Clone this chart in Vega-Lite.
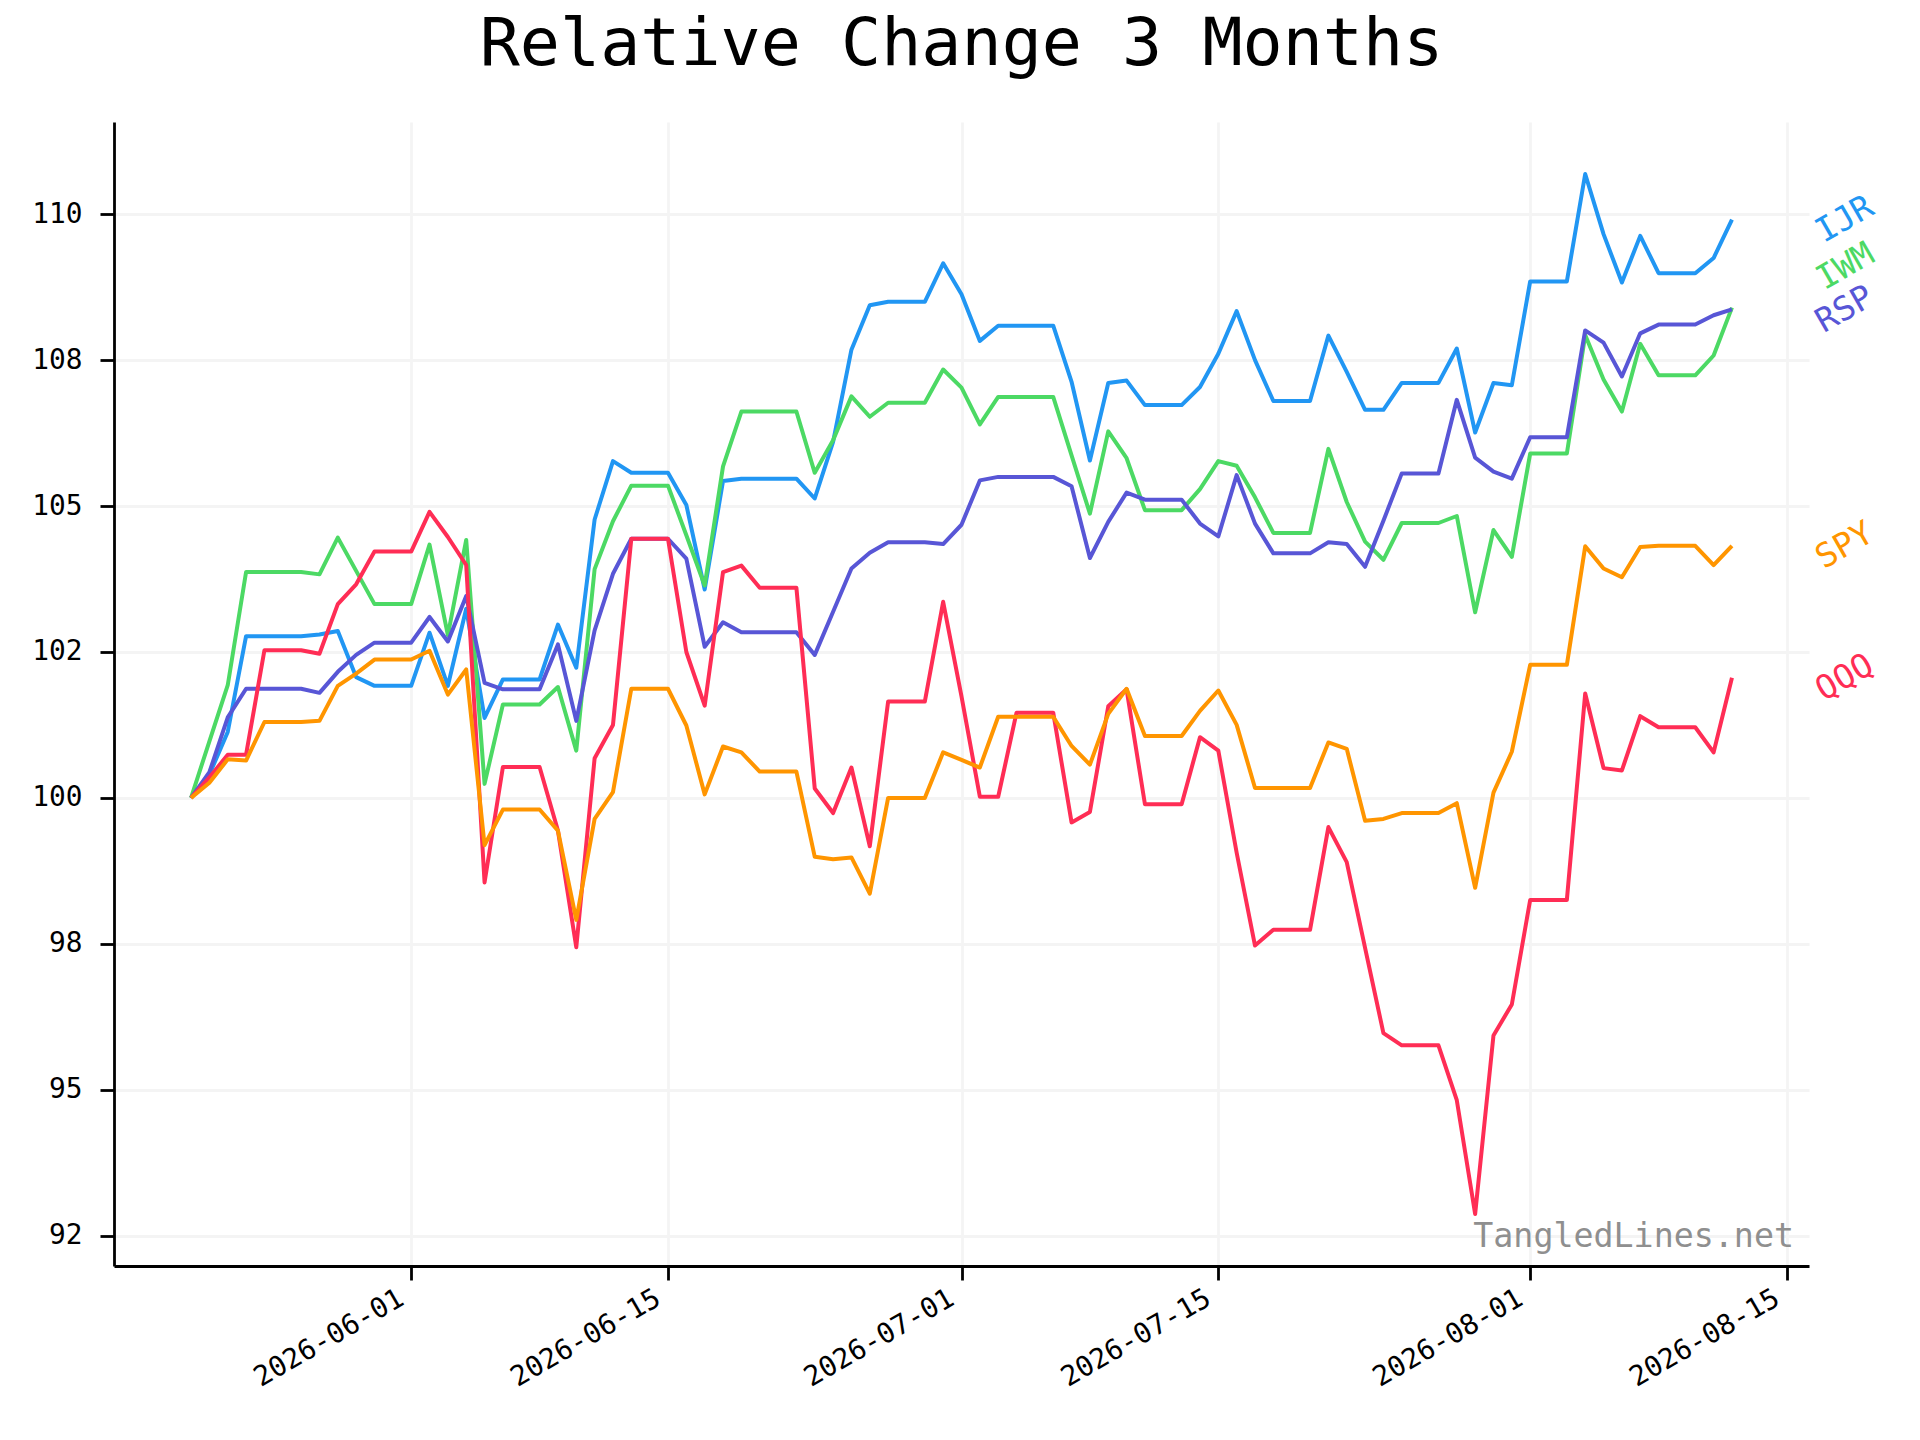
{
  "$schema": "https://vega.github.io/schema/vega-lite/v6.json",
  "width": 1695,
  "height": 1144,
  "autosize": {"type": "none"},
  "padding": {"left": 114, "top": 122, "right": 111, "bottom": 174},
  "background": "white",
  "config": {
    "view": {"stroke": null},
    "font": "DejaVu Sans Mono",
    "axis": {
      "domainColor": "black",
      "domainWidth": 2.8,
      "tickColor": "black",
      "tickWidth": 2.8,
      "tickSize": 14,
      "labelFont": "DejaVu Sans Mono",
      "labelFontSize": 27.8,
      "labelColor": "black",
      "gridColor": "#f4f4f4",
      "gridWidth": 2.8
    }
  },
  "title": {
    "text": "Relative Change 3 Months",
    "font": "DejaVu Sans Mono",
    "fontSize": 66.7,
    "fontWeight": "normal",
    "color": "black",
    "anchor": "middle",
    "baseline": "alphabetic",
    "offset": -10
  },
  "data": {
    "format": {"parse": {"date": "utc:'%Y-%m-%d'"}},
    "values": [
      {"date": "2026-05-20", "IJR": 100.00, "IWM": 100.00, "RSP": 100.00, "QQQ": 100.00, "SPY": 100.00},
      {"date": "2026-05-21", "IJR": 100.40, "IWM": 100.97, "RSP": 100.44, "QQQ": 100.35, "SPY": 100.26},
      {"date": "2026-05-22", "IJR": 101.13, "IWM": 101.93, "RSP": 101.38, "QQQ": 100.74, "SPY": 100.66},
      {"date": "2026-05-23", "IJR": 102.77, "IWM": 103.87, "RSP": 101.87, "QQQ": 100.74, "SPY": 100.64},
      {"date": "2026-05-24", "IJR": 102.77, "IWM": 103.87, "RSP": 101.87, "QQQ": 102.53, "SPY": 101.30},
      {"date": "2026-05-25", "IJR": 102.77, "IWM": 103.87, "RSP": 101.87, "QQQ": 102.53, "SPY": 101.30},
      {"date": "2026-05-26", "IJR": 102.77, "IWM": 103.87, "RSP": 101.87, "QQQ": 102.53, "SPY": 101.30},
      {"date": "2026-05-27", "IJR": 102.80, "IWM": 103.83, "RSP": 101.80, "QQQ": 102.47, "SPY": 101.32},
      {"date": "2026-05-28", "IJR": 102.86, "IWM": 104.46, "RSP": 102.16, "QQQ": 103.32, "SPY": 101.92},
      {"date": "2026-05-29", "IJR": 102.07, "IWM": 103.89, "RSP": 102.45, "QQQ": 103.66, "SPY": 102.13},
      {"date": "2026-05-30", "IJR": 101.92, "IWM": 103.32, "RSP": 102.66, "QQQ": 104.22, "SPY": 102.37},
      {"date": "2026-05-31", "IJR": 101.92, "IWM": 103.32, "RSP": 102.66, "QQQ": 104.22, "SPY": 102.37},
      {"date": "2026-06-01", "IJR": 101.92, "IWM": 103.32, "RSP": 102.66, "QQQ": 104.22, "SPY": 102.37},
      {"date": "2026-06-02", "IJR": 102.83, "IWM": 104.34, "RSP": 103.10, "QQQ": 104.90, "SPY": 102.52},
      {"date": "2026-06-03", "IJR": 101.92, "IWM": 102.79, "RSP": 102.68, "QQQ": 104.47, "SPY": 101.77},
      {"date": "2026-06-04", "IJR": 103.24, "IWM": 104.42, "RSP": 103.46, "QQQ": 103.99, "SPY": 102.20},
      {"date": "2026-06-05", "IJR": 101.37, "IWM": 100.24, "RSP": 101.97, "QQQ": 98.55, "SPY": 99.19},
      {"date": "2026-06-06", "IJR": 102.03, "IWM": 101.60, "RSP": 101.86, "QQQ": 100.53, "SPY": 99.80},
      {"date": "2026-06-07", "IJR": 102.03, "IWM": 101.60, "RSP": 101.86, "QQQ": 100.53, "SPY": 99.80},
      {"date": "2026-06-08", "IJR": 102.03, "IWM": 101.60, "RSP": 101.86, "QQQ": 100.53, "SPY": 99.80},
      {"date": "2026-06-09", "IJR": 102.97, "IWM": 101.90, "RSP": 102.63, "QQQ": 99.44, "SPY": 99.44},
      {"date": "2026-06-10", "IJR": 102.23, "IWM": 100.81, "RSP": 101.32, "QQQ": 97.44, "SPY": 97.91},
      {"date": "2026-06-11", "IJR": 104.77, "IWM": 103.92, "RSP": 102.87, "QQQ": 100.68, "SPY": 99.64},
      {"date": "2026-06-12", "IJR": 105.77, "IWM": 104.74, "RSP": 103.84, "QQQ": 101.25, "SPY": 100.10},
      {"date": "2026-06-13", "IJR": 105.57, "IWM": 105.35, "RSP": 104.44, "QQQ": 104.44, "SPY": 101.87},
      {"date": "2026-06-14", "IJR": 105.57, "IWM": 105.35, "RSP": 104.44, "QQQ": 104.44, "SPY": 101.87},
      {"date": "2026-06-15", "IJR": 105.57, "IWM": 105.35, "RSP": 104.44, "QQQ": 104.44, "SPY": 101.87},
      {"date": "2026-06-16", "IJR": 105.02, "IWM": 104.50, "RSP": 104.10, "QQQ": 102.50, "SPY": 101.24},
      {"date": "2026-06-17", "IJR": 103.57, "IWM": 103.64, "RSP": 102.59, "QQQ": 101.58, "SPY": 100.06},
      {"date": "2026-06-18", "IJR": 105.43, "IWM": 105.68, "RSP": 103.01, "QQQ": 103.87, "SPY": 100.88},
      {"date": "2026-06-19", "IJR": 105.47, "IWM": 106.62, "RSP": 102.84, "QQQ": 103.98, "SPY": 100.78},
      {"date": "2026-06-20", "IJR": 105.47, "IWM": 106.62, "RSP": 102.84, "QQQ": 103.60, "SPY": 100.45},
      {"date": "2026-06-21", "IJR": 105.47, "IWM": 106.62, "RSP": 102.84, "QQQ": 103.60, "SPY": 100.45},
      {"date": "2026-06-22", "IJR": 105.47, "IWM": 106.62, "RSP": 102.84, "QQQ": 103.60, "SPY": 100.45},
      {"date": "2026-06-23", "IJR": 105.13, "IWM": 105.57, "RSP": 102.45, "QQQ": 100.16, "SPY": 98.99},
      {"date": "2026-06-24", "IJR": 106.10, "IWM": 106.13, "RSP": 103.19, "QQQ": 99.74, "SPY": 98.95},
      {"date": "2026-06-25", "IJR": 107.68, "IWM": 106.88, "RSP": 103.93, "QQQ": 100.52, "SPY": 98.98},
      {"date": "2026-06-26", "IJR": 108.44, "IWM": 106.53, "RSP": 104.20, "QQQ": 99.17, "SPY": 98.36},
      {"date": "2026-06-27", "IJR": 108.50, "IWM": 106.77, "RSP": 104.38, "QQQ": 101.65, "SPY": 100.00},
      {"date": "2026-06-28", "IJR": 108.50, "IWM": 106.77, "RSP": 104.38, "QQQ": 101.65, "SPY": 100.00},
      {"date": "2026-06-29", "IJR": 108.50, "IWM": 106.77, "RSP": 104.38, "QQQ": 101.65, "SPY": 100.00},
      {"date": "2026-06-30", "IJR": 109.16, "IWM": 107.34, "RSP": 104.35, "QQQ": 103.36, "SPY": 100.78},
      {"date": "2026-07-01", "IJR": 108.63, "IWM": 107.03, "RSP": 104.68, "QQQ": 101.74, "SPY": 100.65},
      {"date": "2026-07-02", "IJR": 107.83, "IWM": 106.40, "RSP": 105.44, "QQQ": 100.02, "SPY": 100.52},
      {"date": "2026-07-03", "IJR": 108.09, "IWM": 106.87, "RSP": 105.50, "QQQ": 100.02, "SPY": 101.39},
      {"date": "2026-07-04", "IJR": 108.09, "IWM": 106.87, "RSP": 105.50, "QQQ": 101.46, "SPY": 101.39},
      {"date": "2026-07-05", "IJR": 108.09, "IWM": 106.87, "RSP": 105.50, "QQQ": 101.46, "SPY": 101.39},
      {"date": "2026-07-06", "IJR": 108.09, "IWM": 106.87, "RSP": 105.50, "QQQ": 101.46, "SPY": 101.39},
      {"date": "2026-07-07", "IJR": 107.13, "IWM": 105.87, "RSP": 105.34, "QQQ": 99.58, "SPY": 100.89},
      {"date": "2026-07-08", "IJR": 105.78, "IWM": 104.87, "RSP": 104.11, "QQQ": 99.76, "SPY": 100.57},
      {"date": "2026-07-09", "IJR": 107.11, "IWM": 106.28, "RSP": 104.73, "QQQ": 101.57, "SPY": 101.44},
      {"date": "2026-07-10", "IJR": 107.15, "IWM": 105.82, "RSP": 105.23, "QQQ": 101.86, "SPY": 101.87},
      {"date": "2026-07-11", "IJR": 106.73, "IWM": 104.93, "RSP": 105.11, "QQQ": 99.89, "SPY": 101.06},
      {"date": "2026-07-12", "IJR": 106.73, "IWM": 104.93, "RSP": 105.11, "QQQ": 99.89, "SPY": 101.06},
      {"date": "2026-07-13", "IJR": 106.73, "IWM": 104.93, "RSP": 105.11, "QQQ": 99.89, "SPY": 101.06},
      {"date": "2026-07-14", "IJR": 107.04, "IWM": 105.29, "RSP": 104.70, "QQQ": 101.04, "SPY": 101.49},
      {"date": "2026-07-15", "IJR": 107.61, "IWM": 105.77, "RSP": 104.48, "QQQ": 100.81, "SPY": 101.84},
      {"date": "2026-07-16", "IJR": 108.34, "IWM": 105.69, "RSP": 105.53, "QQQ": 99.06, "SPY": 101.25},
      {"date": "2026-07-17", "IJR": 107.50, "IWM": 105.15, "RSP": 104.70, "QQQ": 97.47, "SPY": 100.17},
      {"date": "2026-07-18", "IJR": 106.80, "IWM": 104.54, "RSP": 104.19, "QQQ": 97.74, "SPY": 100.17},
      {"date": "2026-07-19", "IJR": 106.80, "IWM": 104.54, "RSP": 104.19, "QQQ": 97.74, "SPY": 100.17},
      {"date": "2026-07-20", "IJR": 106.80, "IWM": 104.54, "RSP": 104.19, "QQQ": 97.74, "SPY": 100.17},
      {"date": "2026-07-21", "IJR": 107.92, "IWM": 105.98, "RSP": 104.38, "QQQ": 99.50, "SPY": 100.95},
      {"date": "2026-07-22", "IJR": 107.30, "IWM": 105.07, "RSP": 104.35, "QQQ": 98.90, "SPY": 100.84},
      {"date": "2026-07-23", "IJR": 106.65, "IWM": 104.39, "RSP": 103.96, "QQQ": 97.43, "SPY": 99.61},
      {"date": "2026-07-24", "IJR": 106.65, "IWM": 104.08, "RSP": 104.75, "QQQ": 95.97, "SPY": 99.64},
      {"date": "2026-07-25", "IJR": 107.11, "IWM": 104.71, "RSP": 105.56, "QQQ": 95.76, "SPY": 99.74},
      {"date": "2026-07-26", "IJR": 107.11, "IWM": 104.71, "RSP": 105.56, "QQQ": 95.76, "SPY": 99.74},
      {"date": "2026-07-27", "IJR": 107.11, "IWM": 104.71, "RSP": 105.56, "QQQ": 95.76, "SPY": 99.74},
      {"date": "2026-07-28", "IJR": 107.70, "IWM": 104.83, "RSP": 106.82, "QQQ": 94.82, "SPY": 99.91},
      {"date": "2026-07-29", "IJR": 106.26, "IWM": 103.18, "RSP": 105.83, "QQQ": 92.87, "SPY": 98.46},
      {"date": "2026-07-30", "IJR": 107.11, "IWM": 104.59, "RSP": 105.59, "QQQ": 95.93, "SPY": 100.09},
      {"date": "2026-07-31", "IJR": 107.07, "IWM": 104.13, "RSP": 105.47, "QQQ": 96.46, "SPY": 100.79},
      {"date": "2026-08-01", "IJR": 108.85, "IWM": 105.90, "RSP": 106.18, "QQQ": 98.25, "SPY": 102.28},
      {"date": "2026-08-02", "IJR": 108.85, "IWM": 105.90, "RSP": 106.18, "QQQ": 98.25, "SPY": 102.28},
      {"date": "2026-08-03", "IJR": 108.85, "IWM": 105.90, "RSP": 106.18, "QQQ": 98.25, "SPY": 102.28},
      {"date": "2026-08-04", "IJR": 110.69, "IWM": 107.93, "RSP": 108.01, "QQQ": 101.79, "SPY": 104.31},
      {"date": "2026-08-05", "IJR": 109.66, "IWM": 107.17, "RSP": 107.80, "QQQ": 100.51, "SPY": 103.93},
      {"date": "2026-08-06", "IJR": 108.83, "IWM": 106.62, "RSP": 107.22, "QQQ": 100.47, "SPY": 103.78},
      {"date": "2026-08-07", "IJR": 109.63, "IWM": 107.78, "RSP": 107.96, "QQQ": 101.40, "SPY": 104.30},
      {"date": "2026-08-08", "IJR": 108.99, "IWM": 107.24, "RSP": 108.11, "QQQ": 101.21, "SPY": 104.32},
      {"date": "2026-08-09", "IJR": 108.99, "IWM": 107.24, "RSP": 108.11, "QQQ": 101.21, "SPY": 104.32},
      {"date": "2026-08-10", "IJR": 108.99, "IWM": 107.24, "RSP": 108.11, "QQQ": 101.21, "SPY": 104.32},
      {"date": "2026-08-11", "IJR": 109.25, "IWM": 107.58, "RSP": 108.27, "QQQ": 100.78, "SPY": 103.99},
      {"date": "2026-08-12", "IJR": 109.91, "IWM": 108.40, "RSP": 108.37, "QQQ": 102.06, "SPY": 104.32}
    ]
  },
  "layer": [
    {
      "transform": [
        {"fold": ["IJR", "IWM", "RSP", "QQQ", "SPY"], "as": ["symbol", "value"]}
      ],
      "mark": {"type": "line", "strokeWidth": 4, "strokeJoin": "round"},
      "encoding": {
        "x": {
          "field": "date",
          "type": "temporal",
          "title": null,
          "scale": {
            "type": "utc",
            "domain": [
              {"year": 2026, "month": 5, "date": 15, "hours": 19, "minutes": 12, "utc": true},
              {"year": 2026, "month": 8, "date": 16, "hours": 4, "minutes": 48, "utc": true}
            ]
          },
          "axis": {
            "values": [
              {"year": 2026, "month": 6, "date": 1, "utc": true},
              {"year": 2026, "month": 6, "date": 15, "utc": true},
              {"year": 2026, "month": 7, "date": 1, "utc": true},
              {"year": 2026, "month": 7, "date": 15, "utc": true},
              {"year": 2026, "month": 8, "date": 1, "utc": true},
              {"year": 2026, "month": 8, "date": 15, "utc": true}
            ],
            "labelExpr": "utcFormat(datum.value, '%Y-%m-%d')",
            "labelAngle": -30,
            "labelAlign": "right",
            "labelBaseline": "top",
            "labelOffset": -17,
            "labelPadding": 4
          }
        },
        "y": {
          "field": "value",
          "type": "quantitative",
          "title": null,
          "scale": {"domain": [91.979, 111.581], "nice": false, "zero": false},
          "axis": {
            "values": [92.5, 95, 97.5, 100, 102.5, 105, 107.5, 110],
            "labelExpr": "(datum.value * 2) % 2 == 1 ? (floor(datum.value) % 2 == 0 ? format(floor(datum.value), 'd') : format(ceil(datum.value), 'd')) : format(datum.value, 'd')",
            "labelPadding": 18
          }
        },
        "color": {
          "field": "symbol",
          "type": "nominal",
          "scale": {
            "domain": ["IJR", "IWM", "RSP", "QQQ", "SPY"],
            "range": ["#2196F3", "#4CD964", "#5856D6", "#FF2D55", "#FF9500"]
          },
          "legend": null
        }
      }
    },
    {
      "transform": [
        {"fold": ["IJR", "IWM", "RSP", "QQQ", "SPY"], "as": ["symbol", "value"]},
        {"joinaggregate": [{"op": "max", "field": "date", "as": "last"}]},
        {"filter": "time(datum.date) == time(datum.last) && datum.symbol != 'IWM'"}
      ],
      "mark": {"type": "text", "angle": 330, "align": "center", "baseline": "middle", "dx": 31, "dy": 18, "fontSize": 33.3, "font": "DejaVu Sans Mono"},
      "encoding": {
        "x": {"value": "width"},
        "y": {"field": "value", "type": "quantitative"},
        "text": {"field": "symbol"},
        "color": {"field": "symbol", "type": "nominal", "legend": null}
      }
    },
    {
      "transform": [
        {"fold": ["IJR", "IWM", "RSP", "QQQ", "SPY"], "as": ["symbol", "value"]},
        {"joinaggregate": [{"op": "max", "field": "date", "as": "last"}]},
        {"filter": "time(datum.date) == time(datum.last) && datum.symbol == 'IWM'"}
      ],
      "mark": {"type": "text", "angle": 330, "align": "center", "baseline": "middle", "dx": 52, "dy": -17, "fontSize": 33.3, "font": "DejaVu Sans Mono"},
      "encoding": {
        "x": {"value": "width"},
        "y": {"field": "value", "type": "quantitative"},
        "text": {"field": "symbol"},
        "color": {"field": "symbol", "type": "nominal", "legend": null}
      }
    },
    {
      "data": {"values": [{"site": "TangledLines.net"}]},
      "mark": {"type": "text", "align": "right", "baseline": "alphabetic", "dx": -15, "dy": -19, "fontSize": 33.3, "font": "DejaVu Sans Mono", "color": "#8f8f8f"},
      "encoding": {
        "x": {"value": "width"},
        "y": {"value": "height"},
        "text": {"field": "site"}
      }
    }
  ]
}
